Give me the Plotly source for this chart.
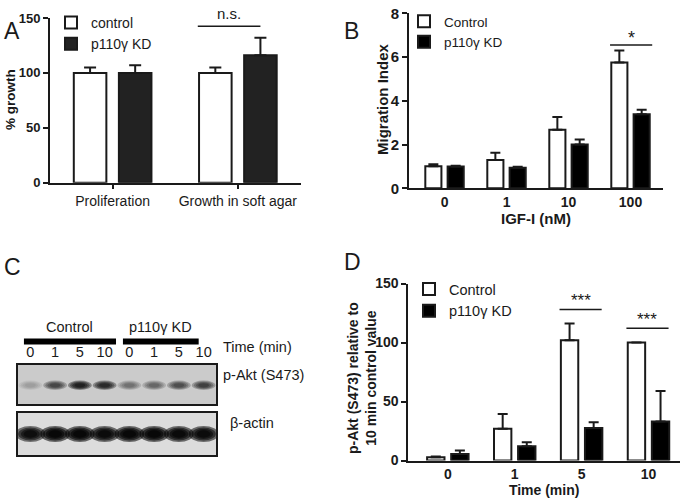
import plotly.graph_objects as go

FONT = "Liberation Sans, Arial, sans-serif"
INK = "#1a1a1a"
W, H = 685, 501

# ---------------- Panel A data ----------------
a_categories = ["Proliferation", "Growth in soft agar"]
a_control = [100, 100]
a_control_err = [5, 5]
a_kd = [100, 116]
a_kd_err = [7, 16]
a_yticks = [0, 50, 100, 150]
a_sig_cat = [1]
a_sig_y = [142.6]
a_sig_text = ["n.s."]

# ---------------- Panel B data ----------------
b_categories = ["0", "1", "10", "100"]
b_control = [1.01, 1.29, 2.68, 5.75]
b_control_err = [0.09, 0.33, 0.58, 0.55]
b_kd = [1.0, 0.94, 2.0, 3.38]
b_kd_err = [0.03, 0.05, 0.23, 0.21]
b_yticks = [0, 2, 4, 6, 8]
b_sig_cat = [3]
b_sig_y = [6.55]
b_sig_text = ["*"]

# ---------------- Panel C data (western blot) ----------------
c_lane_labels = ["0", "1", "5", "10", "0", "1", "5", "10"]
c_pakt_intensity = [0.15, 0.6, 0.95, 0.85, 0.35, 0.4, 0.55, 0.65]
c_actin_intensity = [0.9, 1.0, 1.0, 0.95, 1.0, 1.0, 0.97, 0.95]
c_groups = ["Control", "p110γ KD"]

# ---------------- Panel D data ----------------
d_categories = ["0", "1", "5", "10"]
d_control = [2.7, 27, 102, 100]
d_control_err = [0.6, 12.5, 14, 0]
d_kd = [5.5, 12, 27.5, 33]
d_kd_err = [3, 3.5, 5, 26]
d_yticks = [0, 50, 100, 150]
d_sig_cat = [2, 3]
d_sig_y = [128, 112]
d_sig_text = ["***", "***"]


def px_x(p):
    return p / W


def px_y(p):
    return 1 - p / H


BAR_W = 0.26
OFF_C = -0.31
OFF_K = 0.05

fig = go.Figure()


def add_pair(xa, ya, cats, ctrl, ctrl_err, kd, kd_err, names, legend, kd_color, cap):
    err_line = dict(type="data", symmetric=False, color=INK, thickness=2, width=cap)
    fig.add_trace(go.Bar(
        x=cats, y=ctrl, name=names[0], xaxis=xa, yaxis=ya, legend=legend,
        width=BAR_W, offset=OFF_C, marker=dict(color="white", line=dict(color=INK, width=2)),
        error_y=dict(array=ctrl_err, arrayminus=[0] * len(ctrl), **err_line),
        cliponaxis=False, hoverinfo="skip"))
    fig.add_trace(go.Bar(
        x=cats, y=kd, name=names[1], xaxis=xa, yaxis=ya, legend=legend,
        width=BAR_W, offset=OFF_K, marker=dict(color=kd_color, line=dict(color=INK, width=2)),
        error_y=dict(array=kd_err, arrayminus=[0] * len(kd), **err_line),
        cliponaxis=False, hoverinfo="skip"))


add_pair("x", "y", a_categories, a_control, a_control_err, a_kd, a_kd_err,
         ["control", "p110γ KD"], "legend", "#222222", 6)
add_pair("x2", "y2", b_categories, b_control, b_control_err, b_kd, b_kd_err,
         ["Control", "p110γ KD"], "legend2", "#000000", 5)
add_pair("x3", "y3", d_categories, d_control, d_control_err, d_kd, d_kd_err,
         ["Control", "p110γ KD"], "legend3", "#000000", 5)

# invisible anchors for blot axes
for xa, ya in [("x4", "y4"), ("x5", "y5")]:
    fig.add_trace(go.Scatter(x=[0], y=[0.5], xaxis=xa, yaxis=ya, mode="markers",
                             marker=dict(opacity=0), showlegend=False, hoverinfo="skip"))

bold = dict(family=FONT, color=INK, weight="bold")
norm = dict(family=FONT, color=INK)

axis_common = dict(showline=True, linewidth=2, linecolor=INK, showgrid=False, zeroline=False,
                   ticks="outside", tickwidth=2, tickcolor=INK, fixedrange=True, automargin=False)
blot_axis = dict(showline=True, mirror=True, linewidth=2, linecolor=INK, ticks="",
                 showgrid=False, zeroline=False, fixedrange=True, automargin=False)

layout = dict(
    width=W, height=H, margin=dict(l=0, r=0, t=0, b=0, pad=0, autoexpand=False),
    paper_bgcolor="white", plot_bgcolor="white", barmode="overlay",
    font=dict(family=FONT, color=INK),
    xaxis=dict(domain=[px_x(50), px_x(300.5)], anchor="y", type="category", range=[-0.5, 1.5],
               ticklen=4, tickfont=dict(size=14, **norm), **axis_common),
    yaxis=dict(domain=[px_y(182.7), px_y(18)], anchor="x", range=[0, 150], tickvals=a_yticks,
               ticklen=5, tickfont=dict(size=13, **bold), **axis_common),
    xaxis2=dict(domain=[px_x(409), px_x(663)], anchor="y2", type="category", range=[-0.573, 3.524],
                ticklen=0, tickfont=dict(size=14, **bold),
                title=dict(text="IGF-I (nM)", font=dict(size=15, **bold), standoff=4), **axis_common),
    yaxis2=dict(domain=[px_y(188.3), px_y(13.3)], anchor="x2", range=[0, 8], tickvals=b_yticks,
                ticklen=5, tickfont=dict(size=15, **bold), **axis_common),
    xaxis3=dict(domain=[px_x(408.3), px_x(680)], anchor="y3", type="category", range=[-0.591, 3.471],
                ticklen=0, tickfont=dict(size=14, **bold),
                title=dict(text="Time (min)", font=dict(size=14, **bold), standoff=1), **axis_common),
    yaxis3=dict(domain=[px_y(460.5), px_y(283.5)], anchor="x3", range=[0, 150], tickvals=d_yticks,
                ticklen=5, tickfont=dict(size=14, **bold), **axis_common),
    xaxis4=dict(domain=[px_x(18), px_x(216)], anchor="y4", range=[-0.5, 7.5],
                tickvals=list(range(len(c_lane_labels))), ticktext=c_lane_labels, side="top",
                tickfont=dict(size=14.5, **norm), **blot_axis),
    yaxis4=dict(domain=[px_y(404), px_y(365)], anchor="x4", range=[0, 1], showticklabels=False,
                **blot_axis),
    xaxis5=dict(domain=[px_x(18), px_x(216)], anchor="y5", range=[-0.5, 7.5], showticklabels=False,
                **blot_axis),
    yaxis5=dict(domain=[px_y(455), px_y(413)], anchor="x5", range=[0, 1], showticklabels=False,
                **blot_axis),
    legend=dict(x=px_x(51), y=px_y(7), xanchor="left", yanchor="top", bgcolor="rgba(0,0,0,0)",
                font=dict(size=14, **norm), tracegroupgap=0),
    legend2=dict(x=px_x(404), y=px_y(6), xanchor="left", yanchor="top", bgcolor="rgba(0,0,0,0)",
                 font=dict(size=13.5, **norm), tracegroupgap=0),
    legend3=dict(x=px_x(409), y=px_y(273), xanchor="left", yanchor="top", bgcolor="rgba(0,0,0,0)",
                 font=dict(size=14.5, **norm), tracegroupgap=0),
)
fig.update_layout(**layout)

shapes = []
annotations = []

# rotated y-axis titles
for text, (cx, cy), size in [
    ("% growth", (11, 100), 13.5),
    ("Migration Index", (383, 100), 15),
    ("p-Akt (S473) relative to<br>10 min control value", (362, 378), 14),
]:
    annotations.append(dict(xref="paper", yref="paper", x=px_x(cx), y=px_y(cy), text=text,
                            textangle=-90, xanchor="center", yanchor="middle",
                            showarrow=False, font=dict(size=size, **bold)))


# significance markers
def add_sig(xref, yref, cats, ys, texts, left, right, size, yshift):
    for c, yv, t in zip(cats, ys, texts):
        shapes.append(dict(type="line", xref=xref, yref=yref, x0=c + left, x1=c + right, y0=yv, y1=yv,
                           line=dict(color=INK, width=1.5)))
        annotations.append(dict(xref=xref, yref=yref, x=c + (left + right) / 2, y=yv, text=t,
                                showarrow=False, yanchor="bottom", yshift=yshift,
                                font=dict(size=size, **norm)))


add_sig("x", "y", a_sig_cat, a_sig_y, a_sig_text, -0.32, 0.18, 15, 2)
add_sig("x2", "y2", b_sig_cat, b_sig_y, b_sig_text, -0.33, 0.35, 18, -5)
add_sig("x3", "y3", d_sig_cat, d_sig_y, d_sig_text, -0.33, 0.3, 17, -3)

# blot backgrounds
shapes.append(dict(type="rect", xref="x4 domain", yref="y4 domain", x0=0, x1=1, y0=0, y1=1,
                   fillcolor="#cbcbcb", line=dict(width=0), layer="below"))
shapes.append(dict(type="rect", xref="x5 domain", yref="y5 domain", x0=0, x1=1, y0=0, y1=1,
                   fillcolor="#dcdcdc", line=dict(width=0), layer="below"))


# bands
def add_bands(xref, yref, intens, yc, hw, hh, k):
    for lane, v in enumerate(intens):
        for s in [1.0, 0.82, 0.64, 0.46]:
            shapes.append(dict(type="circle", xref=xref, yref=yref,
                               x0=lane - hw * s, x1=lane + hw * s, y0=yc - hh * s, y1=yc + hh * s,
                               fillcolor="black", opacity=min(1.0, v * k),
                               line=dict(width=0), layer="above"))


add_bands("x4", "y4", c_pakt_intensity, 0.48, 0.48, 0.12, 0.38)
add_bands("x5", "y5", c_actin_intensity, 0.5, 0.6, 0.19, 0.55)

# group brackets
n = len(c_lane_labels)
half = n // 2
bracket_spans = [(-0.26, half - 0.54), (half - 0.26, n - 1.2)]
for (x0, x1), label in zip(bracket_spans, c_groups):
    shapes.append(dict(type="rect", xref="x4", yref="paper", x0=x0, x1=x1,
                       y0=px_y(344.5), y1=px_y(338.5), fillcolor="black", line=dict(width=0)))
    annotations.append(dict(xref="x4", yref="paper", x=(x0 + x1) / 2, y=px_y(327), text=label,
                            showarrow=False, font=dict(size=14.5, **norm)))

annotations += [
    dict(xref="paper", yref="paper", x=px_x(221), y=px_y(357), text="Time (min)", xanchor="left",
         showarrow=False, font=dict(size=14.5, **norm)),
    dict(xref="paper", yref="paper", x=px_x(221), y=px_y(385), text="p-Akt (S473)", xanchor="left",
         showarrow=False, font=dict(size=14.5, **norm)),
    dict(xref="paper", yref="paper", x=px_x(228), y=px_y(433), text="β-actin", xanchor="left",
         showarrow=False, font=dict(size=14.5, **norm)),
]

# panel letters
for letter, (lx, ly) in zip("ABCD", [(2, 16), (342, 16), (2, 267), (342, 262)]):
    annotations.append(dict(xref="paper", yref="paper", x=px_x(lx), y=px_y(ly), text=letter,
                            xanchor="left", showarrow=False, font=dict(size=23, **norm)))

fig.update_layout(shapes=shapes, annotations=annotations)
fig.write_html("out.html", config={"displayModeBar": False},
               post_script="document.body.style.margin='0px';")
